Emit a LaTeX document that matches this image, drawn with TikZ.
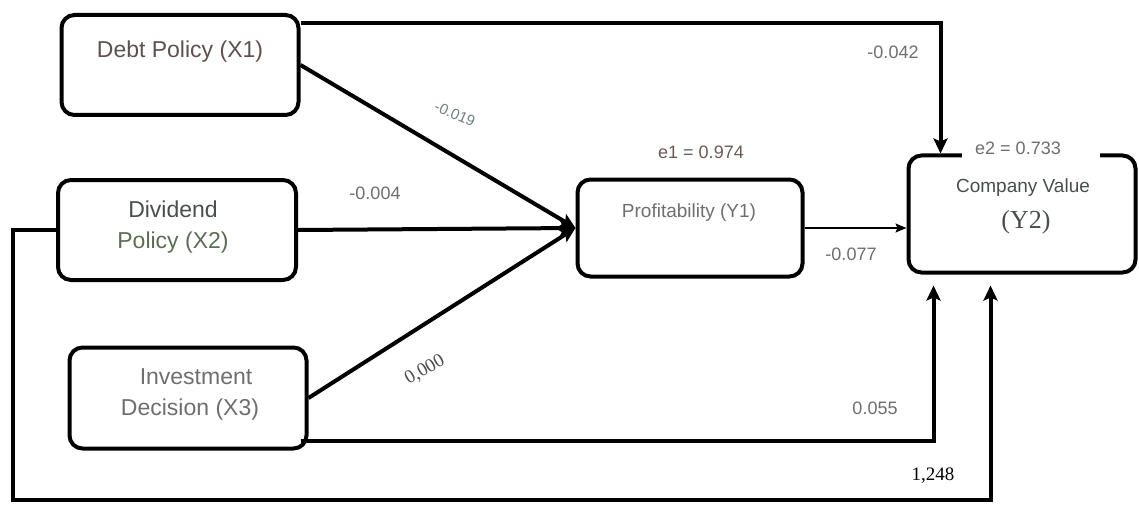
\documentclass[tikz,border=0pt]{standalone}
\usepackage{fontspec}
\setmainfont{Liberation Sans}
\newfontfamily\timesf{Liberation Serif}
\usetikzlibrary{arrows.meta}
\definecolor{lblgray}{HTML}{6E6E6E}
\definecolor{debtc}{HTML}{5E504C}
\definecolor{divc}{HTML}{474F4C}
\definecolor{polgreen}{HTML}{5B6E55}
\definecolor{e1c}{HTML}{6B5A55}
\definecolor{rotc}{HTML}{6F7F80}

\begin{document}
\begin{tikzpicture}[x=1pt,y=-1pt]
  \tikzstyle{boxn}=[rectangle,draw=black,line width=4pt,rounded corners=13pt,inner sep=0]
  \tikzstyle{txt}=[inner sep=0,text=lblgray,font=\fontsize{23}{31}\selectfont]
  \tikzstyle{coef}=[inner sep=0,text=lblgray,font=\fontsize{18}{20}\selectfont]
  \tikzstyle{thickarr}=[line width=4pt,-{Stealth[length=15pt,width=14pt,inset=3pt]}]
  \tikzstyle{thinarr}=[line width=1.4pt,-{Stealth[length=11pt,width=9pt,inset=2pt]}]
  \useasboundingbox (0,0) rectangle (1139,505);
  % boxes
  \node[boxn,minimum width=237pt,minimum height=100pt] (x1) at (180,65) {};
  \node[boxn,minimum width=238pt,minimum height=100pt] (x2) at (177,230) {};
  \node[boxn,minimum width=237pt,minimum height=101pt] (x3) at (188,398) {};
  \node[boxn,minimum width=225pt,minimum height=97pt] (y1) at (690,228) {};
  \node[boxn,minimum width=227pt,minimum height=117pt] (y2) at (1022,214) {};
  \fill[white] (962,148) rectangle (1100,162);
  % box texts
  \node[txt,text=debtc] (x1t) at ([yshift=13pt]x1.center) {Debt Policy (X1)};
  \node[txt,text=divc,align=center] (x2t) at ([xshift=-4pt,yshift=3pt]x2.center) {Dividend\\\textcolor{polgreen}{Policy (X2)}};
  \node[txt,align=center] (x3t) at ([xshift=2pt,yshift=4pt]x3.center) {\hspace*{12pt}Investment\\Decision (X3)};
  \node[txt,font=\fontsize{19}{22}\selectfont] (y1t) at ([xshift=-1pt,yshift=15pt]y1.center) {Profitability (Y1)};
  \node[txt,font=\fontsize{19}{22}\selectfont,text=divc] (y2t) at (1023,188) {Company Value};
  \node[txt,font=\timesf\fontsize{26}{28}\selectfont,text=divc] (y2s) at (1026,222) {(Y2)};
  % paths
  \draw[thickarr] ([yshift=-10pt]x1.north east) -| ([xshift=34pt]y2.north west);
  \draw[thickarr] (x1.east) -- (y1.west);
  \draw[thickarr] (x2.east) -- (y1.west);
  \draw[thickarr] (x3.east) -- (y1.west);
  \draw[thinarr] (y1.east) -- (y1.east -| y2.west);
  \draw[thickarr] ([xshift=-8pt,yshift=10pt]x3.south east) -| ([xshift=27pt,yshift=-11pt]y2.south west);
  \coordinate (lowleft) at (13,500);
  \draw[thickarr] (x2.west) -| (lowleft) -| ([xshift=84pt,yshift=-11pt]y2.south west);
  % coefficients
  \node[coef] (c1) at (893,52) {-0.042};
  \node[coef,rotate=-24,text=rotc,font=\fontsize{15}{17}\selectfont] (c2) at (455,114) {-0.019};
  \node[coef] (c3) at (375,193) {-0.004};
  \node[coef,rotate=30,text=black!70,font=\timesf\fontsize{19}{21}\selectfont] (c4) at (425,370) {0,000};
  \node[coef] (c5) at (851,254) {-0.077};
  \node[coef,text=e1c] (e1) at (701,152) {e1 = 0.974};
  \node[coef] (e2) at (1018,148) {e2 = 0.733};
  \node[coef] (c6) at (875,408) {0.055};
  \node[coef,text=black,font=\timesf\fontsize{19}{21}\selectfont] (c7) at (933,476) {1,248};
\end{tikzpicture}
\end{document}
